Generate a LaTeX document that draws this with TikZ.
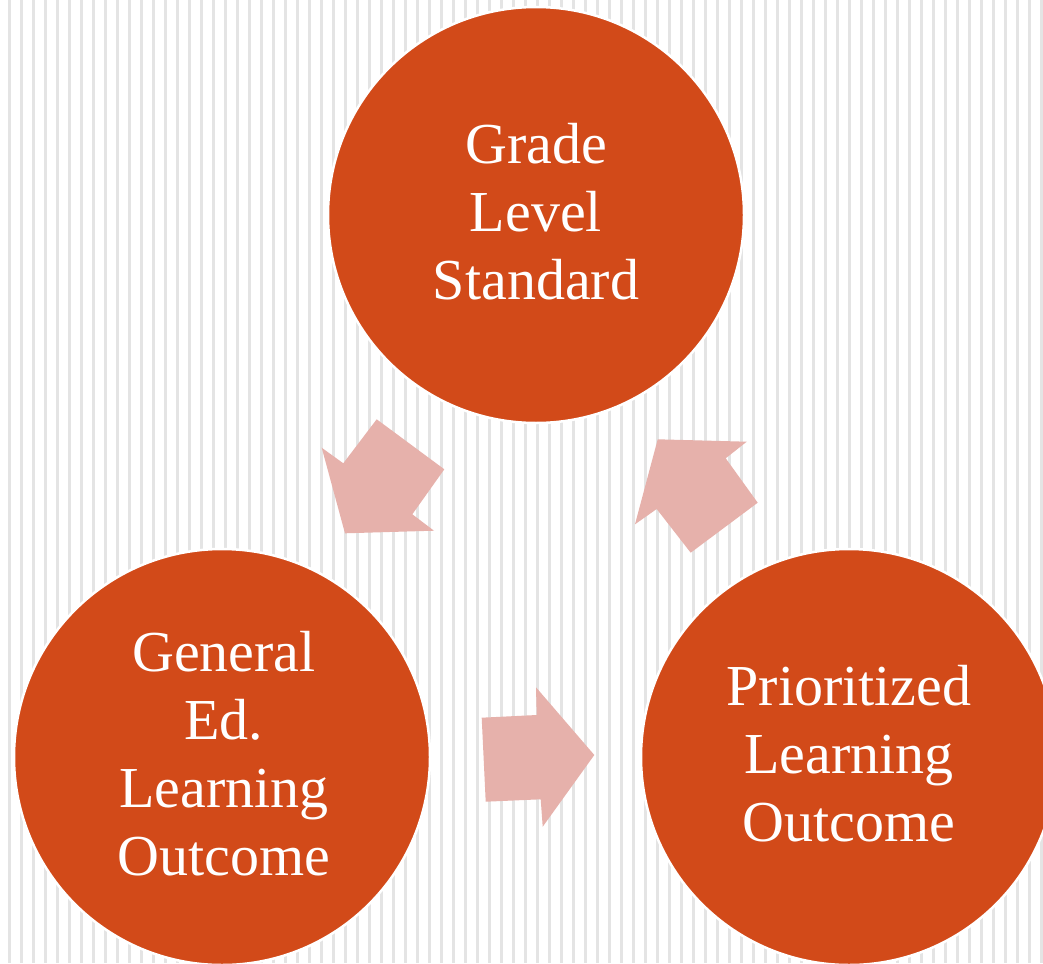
\documentclass[tikz,border=0pt]{standalone}
\usepackage{fontspec}
\setmainfont{Liberation Serif}
\definecolor{circ}{HTML}{D24A19}
\definecolor{arr}{HTML}{E6B1AB}
\definecolor{stripe}{HTML}{E4E4E4}
\tikzset{
  bigcirc/.style={circle, fill=circ, draw=white, line width=2.5pt, minimum size=416pt, inner sep=0pt},
  lbl/.style={text=white, align=center, font=\fontsize{58}{68}\selectfont},
  arrowshape/.style={fill=arr, draw=none}
}
\begin{document}
\begin{tikzpicture}[x=1pt,y=-1pt]
\useasboundingbox (0,0) rectangle (1043,963);
\fill[white] (0,0) rectangle (1043,963);
\foreach \k in {0,...,86} {
  \fill[stripe] ({8+12*\k},0) rectangle ({10.7+12*\k},963);
}
% arrows
\fill[arr] (345,533.3) -- (321.7,447.7) -- (343.3,463.3) -- (376.7,419.3) -- (444.3,469.3) -- (412.3,514.3) -- (434,530.7) -- cycle;
\fill[arr] (657.7,439.3) -- (746.7,441.7) -- (725.7,458.3) -- (757.7,502.7) -- (690.7,552.7) -- (656.7,509) -- (635,524.3) -- cycle;
\fill[arr] (594.3,755) -- (542.7,826.7) -- (540.7,799.3) -- (485.7,801.7) -- (481.7,717.7) -- (536.7,715) -- (536,687.3) -- cycle;
% circles
\node[bigcirc] (top) at (536,215) {};
\node[bigcirc] (left) at (222,757) {};
\node[bigcirc] (right) at (849,757) {};
\node[lbl] (toplbl) at (536,212) {Grade\\Level\\Standard};
\node[lbl] (leftlbl) at (224,754) {General\\Ed.\\Learning\\Outcome};
\node[lbl] (rightlbl) at (849,754) {Prioritized\\Learning\\Outcome};
\end{tikzpicture}
\end{document}
